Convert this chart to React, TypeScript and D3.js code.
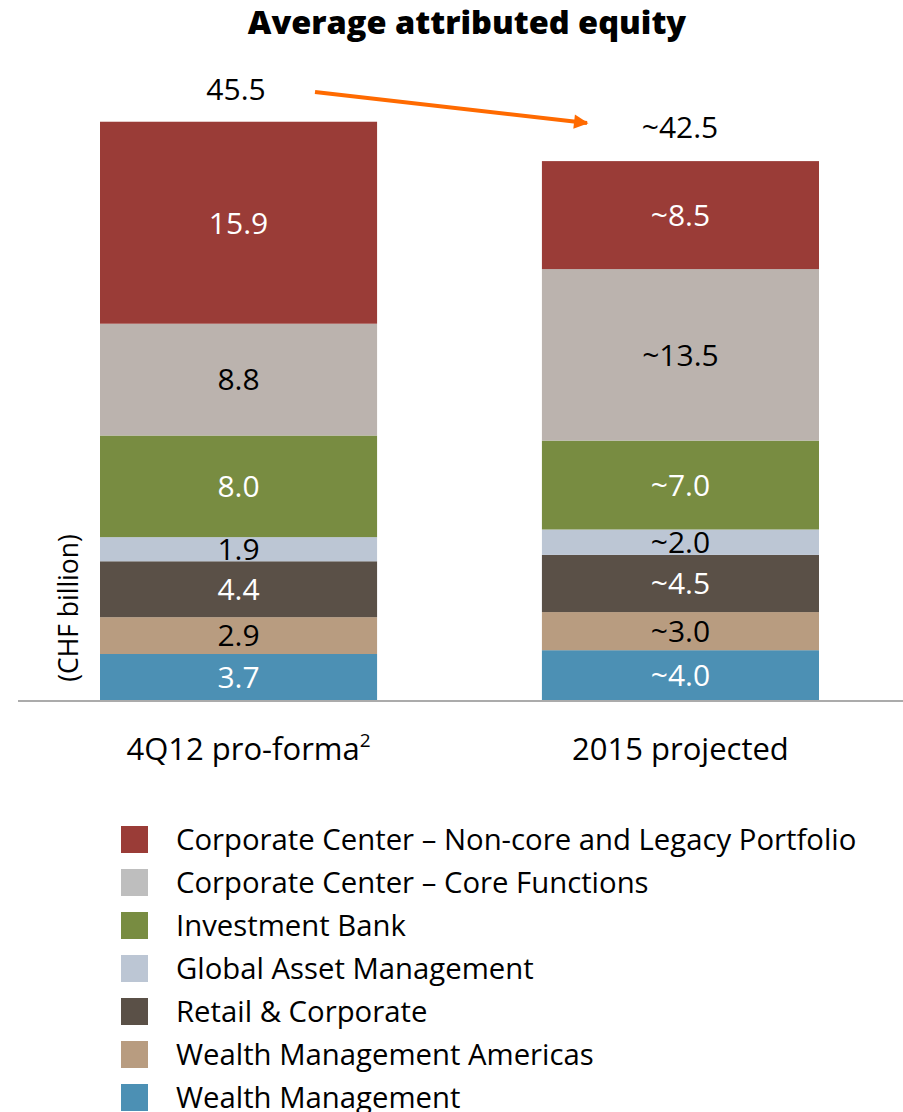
import React from "react";
import * as d3 from "d3";

const categories = ["4Q12 pro-forma", "2015 projected"];
const categoryNotes = ["2", ""];
const totals = [45.5, 42.5];
const totalLabels = ["45.5", "~42.5"];

// Segments listed from the bottom of each stack upward
const segments = [
  "Wealth Management",
  "Wealth Management Americas",
  "Retail & Corporate",
  "Global Asset Management",
  "Investment Bank",
  "Corporate Center – Core Functions",
  "Corporate Center – Non-core and Legacy Portfolio",
];
const values4Q12 = [3.7, 2.9, 4.4, 1.9, 8.0, 8.8, 15.9];
const values2015 = [4.0, 3.0, 4.5, 2.0, 7.0, 13.5, 8.5];
const labels4Q12 = ["3.7", "2.9", "4.4", "1.9", "8.0", "8.8", "15.9"];
const labels2015 = ["~4.0", "~3.0", "~4.5", "~2.0", "~7.0", "~13.5", "~8.5"];

const fills = ["#4C90B4", "#B89C80", "#5A5047", "#BCC6D4", "#788C41", "#BBB3AE", "#9A3C37"];
const legendFills = ["#4C90B4", "#B89C80", "#5A5047", "#BCC6D4", "#788C41", "#BEBEBE", "#9A3C37"];
const labelColors = ["#fff", "#000", "#fff", "#000", "#fff", "#000", "#fff"];

const W = 903;
const H = 1112;
const baseY = 701;

export default function App() {
  const x = d3.scaleBand<string>().domain(categories).range([100, 819]).paddingInner(0.373).paddingOuter(0);
  const y = d3.scaleLinear().domain([0, 45.5]).range([baseY, 123]);

  const series = [values4Q12, values2015];
  const seriesLabels = [labels4Q12, labels2015];

  const stacks = series.map((vals) => {
    let acc = 0;
    return vals.map((v) => {
      const y0 = acc;
      acc += v;
      return { y0, y1: acc, v };
    });
  });

  const legendOrder = d3.range(segments.length).reverse();
  const legendY = d3.scalePoint<number>().domain(legendOrder).range([839, 1097]);

  const font = "'Open Sans', 'Noto Sans', sans-serif";
  const valueFont = "'Open Sans', 'Noto Sans', sans-serif";

  // growth arrow between the two totals
  const ax0 = 315, ay0 = 92, ax1 = 587, ay1 = 123;

  return (
    <svg width={W} height={H} style={{ position: "absolute", left: 0, top: 0, background: "#fff" }}>
      <defs>
        <marker id="arrowHead" viewBox="0 0 10 10" refX="9" refY="5" markerWidth="4" markerHeight="3.6" orient="auto" markerUnits="strokeWidth">
          <path d="M0,0 L10,5 L0,10 z" fill="#FF6A00" />
        </marker>
      </defs>
      <text x={467} y={34} textAnchor="middle" fontFamily={font} fontWeight={800} fontSize={32.5} fill="#000">
        Average attributed equity
      </text>

      {stacks.map((stack, i) =>
        stack.map((s, j) => {
          const x0 = x(categories[i])!;
          const top = y(s.y1);
          const bot = y(s.y0);
          return (
            <g key={`${i}-${j}`}>
              <rect x={x0} y={top} width={x.bandwidth()} height={bot - top} fill={fills[j]} />
              <text
                x={x0 + x.bandwidth() / 2}
                y={(top + bot) / 2}
                dy="0.36em"
                textAnchor="middle"
                fontFamily={valueFont}
                fontSize={30}
                fill={labelColors[j]}
              >
                {seriesLabels[i][j]}
              </text>
            </g>
          );
        })
      )}

      {totals.map((t, i) => (
        <text
          key={i}
          x={i === 0 ? 236 : 680}
          y={y(t) - 34}
          dy="0.36em"
          textAnchor="middle"
          fontFamily={valueFont}
          fontSize={30}
          fill="#000"
        >
          {totalLabels[i]}
        </text>
      ))}

      <line x1={ax0} y1={ay0} x2={ax1} y2={ay1} stroke="#FF6A00" strokeWidth={4} markerEnd="url(#arrowHead)" />

      <line x1={18} x2={W} y1={baseY} y2={baseY} stroke="#ABABAB" strokeWidth={2} />

      <text
        transform={`translate(78, 608) rotate(-90)`}
        textAnchor="middle"
        fontFamily={font}
        fontSize={26.5}
        fill="#000"
      >
        (CHF billion)
      </text>

      {categories.map((c, i) => (
        <text
          key={c}
          x={x(c)! + x.bandwidth() / 2 + (categoryNotes[i] ? 10 : 0)}
          y={760}
          textAnchor="middle"
          fontFamily={font}
          fontSize={31}
          fill="#000"
        >
          {c}
          {categoryNotes[i] ? (
            <tspan fontSize={19} dy={-13}>{categoryNotes[i]}</tspan>
          ) : null}
        </text>
      ))}

      {legendOrder.map((k) => {
        const cy = legendY(k)!;
        return (
          <g key={k}>
            <rect x={121} y={cy - 13} width={27} height={27} fill={legendFills[k]} />
            <text x={176} y={cy} dy="0.36em" fontFamily={font} fontSize={29.3} fill="#000">
              {segments[k]}
            </text>
          </g>
        );
      })}
    </svg>
  );
}
